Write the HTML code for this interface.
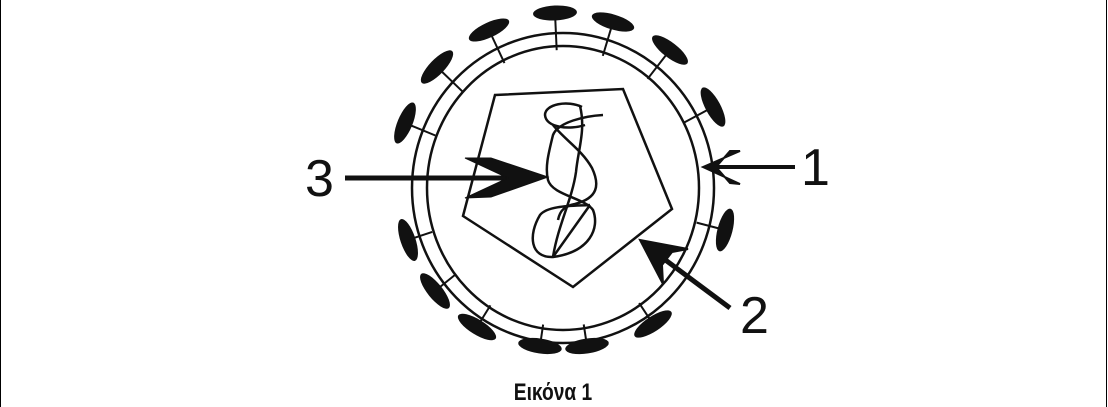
<!DOCTYPE html>
<html><head><meta charset="utf-8"><style>
html,body{margin:0;padding:0;background:#fff;width:1108px;height:407px;overflow:hidden}
svg{display:block}
</style></head><body>
<svg id="s" width="1108" height="407" viewBox="0 0 1108 407" xmlns="http://www.w3.org/2000/svg">
<line x1="0.5" y1="0" x2="0.5" y2="407" stroke="#000" stroke-width="1"/>
<line x1="1106.5" y1="0" x2="1106.5" y2="407" stroke="#000" stroke-width="1"/>
<g fill="none" stroke="#111" stroke-width="2.5">
<ellipse cx="563" cy="188" rx="151" ry="155"/>
<ellipse cx="563" cy="188" rx="136" ry="142"/>
<polygon points="495,95 623,89 672,209 573,287 463,216"/>
<path d="M603,115 C585,116 558,122 553,135 C548,155 545,168 548,180 C552,195 585,198 593,210 C600,228 590,252 553,257 C530,258 528,235 540,215 C548,205 575,206 590,205"/>
<path d="M582,107 C568,100 545,104 545,115 C546,128 570,130 585,125"/>
<path d="M580,106 C586,130 578,150 576,172 C572,200 558,225 553,257"/>
<path d="M553,125 C565,140 582,150 592,168 C600,185 598,198 575,204 C565,206 560,210 558,220"/>
<path d="M553,257 L590,205"/>
</g>
<g stroke="#111" stroke-width="5" fill="#111">
<line x1="345" y1="178" x2="515" y2="178"/>
<polygon points="465,158 491,158 548,177 491,197 465,198 508,178" stroke-width="1"/>
<line x1="795" y1="167" x2="715" y2="167" stroke-width="4"/>
<polygon points="703,167 740,151 730,151 716,167 730,183 740,184" stroke-width="2"/>
<line x1="730" y1="308" x2="652" y2="250" stroke-width="5"/>
<polygon points="640,240 688,249 672,252 662,265 663,284" stroke-width="2"/>
</g>
<g id="sp"></g>
<g font-family="'Liberation Sans',sans-serif" fill="#111" font-size="52">
<text x="305" y="196">3</text>
<text x="801" y="185">1</text>
<text x="740" y="333">2</text>
</g>
<text x="553" y="400" text-anchor="middle" font-family="'Liberation Sans','DejaVu Sans',sans-serif" font-weight="bold" font-size="24" fill="#111" transform="translate(553 0) scale(0.8 1) translate(-553 0)">Εικόνα 1</text>
</svg>
<script>
var pts=[[555,13],[613,22],[670,50],[713,107],[725,230],[653,324],[587,346],[540,346],[477,327],[435,291],[408,240],[405,123],[437,67],[489,30]];
var cx=563,cy=188,g=document.getElementById('sp'),h='';
pts.forEach(function(p){var dx=p[0]-cx,dy=p[1]-cy,d=Math.sqrt(dx*dx+dy*dy),ux=dx/d,uy=dy/d;
var a=Math.atan2(dy,dx)*180/Math.PI+90;
var r=138;
h+='<line x1="'+(cx+ux*r)+'" y1="'+(cy+uy*r)+'" x2="'+(p[0]-ux*4)+'" y2="'+(p[1]-uy*4)+'" stroke="#111" stroke-width="2"/>';
h+='<ellipse cx="'+p[0]+'" cy="'+p[1]+'" rx="22" ry="7.5" fill="#111" transform="rotate('+a+' '+p[0]+' '+p[1]+')"/>';});
g.innerHTML=h;
</script>
</body></html>
